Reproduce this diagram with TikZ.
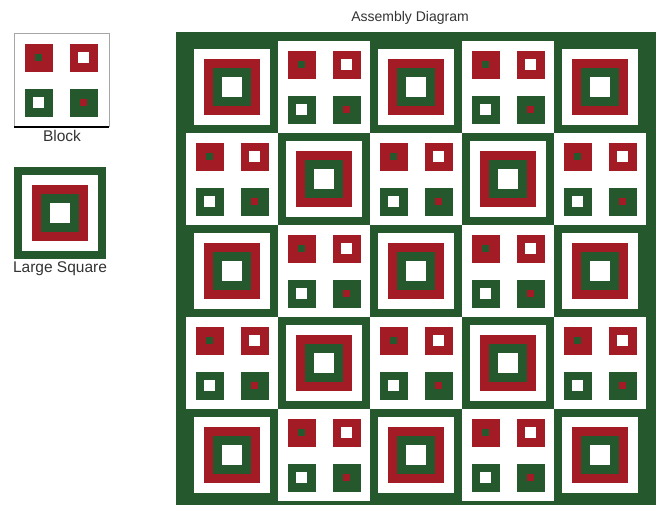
\documentclass[tikz,border=0pt]{standalone}
\usepackage{fontspec}
\setmainfont{Liberation Sans}
\definecolor{quiltgreen}{RGB}{37, 89, 45}
\definecolor{quiltred}{RGB}{163, 27, 36}
\definecolor{labelgray}{RGB}{51, 51, 51}

\begin{document}
\begin{tikzpicture}[x=1pt,y=-1pt,
    label text/.style={text=labelgray, font=\fontsize{14}{16}\selectfont},
    legend text/.style={text=labelgray, font=\fontsize{15.5}{17}\selectfont},
    block/.pic={
      \fill[white] (0,0) rectangle (92,92);
      \fill[quiltred] (9.5,9.5) rectangle (37.5,37.5);
      \fill[quiltgreen] (20,20) rectangle (27,27);
      \fill[quiltred] (54.5,9.5) rectangle (82.5,37.5);
      \fill[white] (63,18) rectangle (74,29);
      \fill[quiltgreen] (9.5,54.5) rectangle (37.5,82.5);
      \fill[white] (18,63) rectangle (29,74);
      \fill[quiltgreen] (54.5,54.5) rectangle (82.5,82.5);
      \fill[quiltred] (65,65) rectangle (72,72);
    },
    bigsquare/.pic={
      \fill[quiltgreen] (0,0) rectangle (92,92);
      \fill[white] (8,8) rectangle (84,84);
      \fill[quiltred] (18,18) rectangle (74,74);
      \fill[quiltgreen] (27,27) rectangle (65,65);
      \fill[white] (36,36) rectangle (56,56);
    }]
  \useasboundingbox (0,0) rectangle (660,506);

  % legend
  \pic at (15,34) {block};
  \draw[gray!70, line width=0.6pt] (14,127) -- (14,33) -- (109,33) -- (109,127);
  \draw[black, line width=1.3pt] (14,127) -- (109,127);
  \node[legend text] (blocklabel) at (62,136) {Block};

  \pic at (14,167) {bigsquare};
  \node[legend text] (squarelabel) at (60,269) {Large Square};

  % quilt
  \node[label text] (title) at (410,18) {Assembly Diagram};
  \fill[quiltgreen] (176,32) rectangle (656,505);
  \foreach \r in {0,...,4}
    \foreach \c in {0,...,4} {
      \pgfmathtruncatemacro\parity{mod(\r+\c,2)}
      \ifnum\parity=0
        \pic at ({186+92*\c},{41+92*\r}) {bigsquare};
      \else
        \pic at ({186+92*\c},{41+92*\r}) {block};
      \fi
    }
\end{tikzpicture}
\end{document}
